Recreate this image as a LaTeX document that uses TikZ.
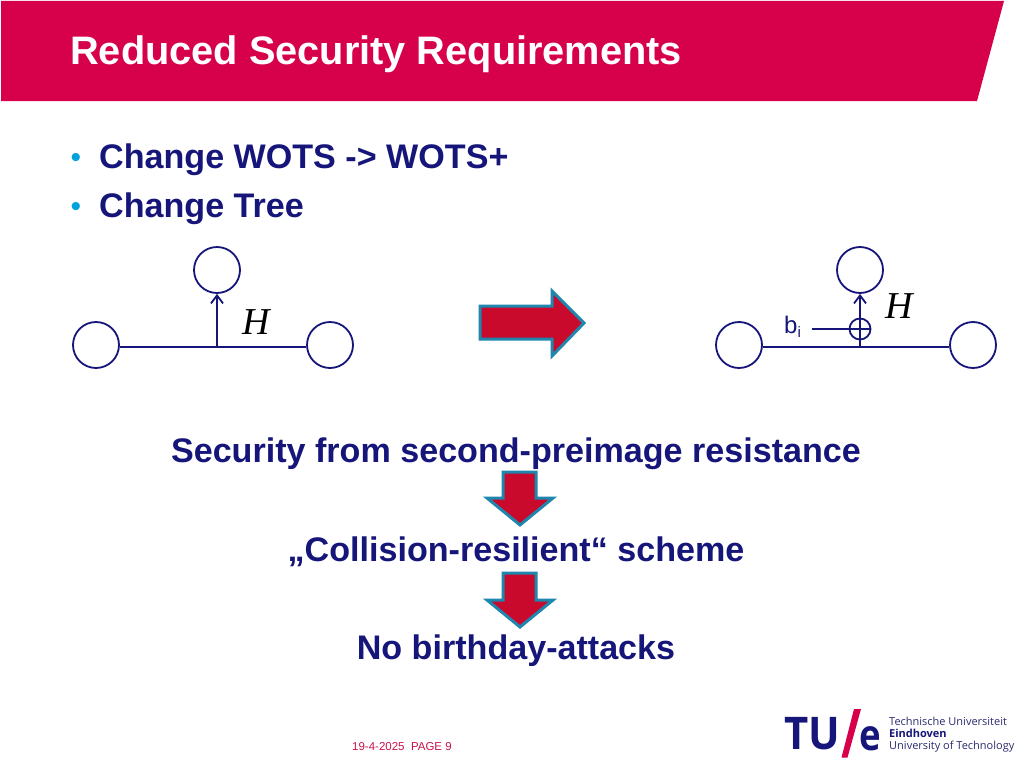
\documentclass[tikz,border=0pt]{standalone}
\usetikzlibrary{arrows.meta}
\usepackage{fontspec}
\setmainfont{Liberation Sans}
\newfontfamily\logofont{Open Sans}
\newfontfamily\mathserif{Liberation Serif}
\definecolor{tuered}{HTML}{D6004B}
\definecolor{navy}{HTML}{15157A}
\definecolor{bulletblue}{HTML}{00A2DE}
\definecolor{arrowred}{HTML}{C90A2C}
\definecolor{arrowedge}{HTML}{1F86AE}
\definecolor{footred}{HTML}{C8144C}
\definecolor{grayt}{HTML}{2B2B6E}
\tikzset{
  x=1pt,y=-1pt,
  treenode/.style={circle,draw=navy,line width=1.8pt,minimum size=46pt,inner sep=0pt,fill=white},
  treeline/.style={draw=navy,line width=1.8pt},
  fatarrow/.style={fill=arrowred,draw=arrowedge,line width=3pt,line join=miter},
  headline/.style={font=\bfseries\fontsize{34.1}{40}\selectfont,text=navy,inner sep=0pt,anchor=base west},
  centerline/.style={font=\bfseries\fontsize{34.1}{40}\selectfont,text=navy,inner sep=0pt,anchor=base},
  hlabel/.style={font=\mathserif\itshape\fontsize{38}{44}\selectfont,text=black,inner sep=0pt,anchor=base},
}
\begin{document}
\begin{tikzpicture}
\useasboundingbox (0,0) rectangle (1024,768);
\fill[white] (0,0) rectangle (1024,768);
% banner
\fill[tuered] (1,1) -- (1004,1) -- (977,101) -- (1,101) -- cycle;
\node[font=\bfseries\fontsize{39.75}{44}\selectfont,text=white,inner sep=0pt,anchor=base west] (title) at (70,64) {Reduced Security Requirements};
% bullets
\node[font=\fontsize{30}{30}\selectfont,text=bulletblue,inner sep=0pt,anchor=base] (b1) at (76,167) {•};
\node[font=\fontsize{30}{30}\selectfont,text=bulletblue,inner sep=0pt,anchor=base] (b2) at (76,216) {•};
\node[headline] (t1) at (99,168) {Change WOTS -> WOTS+};
\node[headline] (t2) at (99,217) {Change Tree};
% left tree
\node[treenode] (la) at (96,345) {};
\node[treenode] (lb) at (330,345) {};
\node[treenode] (lc) at (217,270) {};
\coordinate (lj) at (217,347);
\draw[treeline] (la.east |- lj) -- (lb.west |- lj);
\draw[treeline,-{Straight Barb[length=8pt,width=12pt]}] (lj) -- (lc.south);
\node[hlabel] (lh) at (256.5,334) {H};
% right tree
\node[treenode] (ra) at (739,345) {};
\node[treenode] (rb) at (973,345) {};
\node[treenode] (rc) at (860,270) {};
\coordinate (rj) at (860,347);
\draw[treeline] (ra.east |- rj) -- (rb.west |- rj);
\draw[treeline,-{Straight Barb[length=8pt,width=12pt]}] (rj) -- (rc.south);
\node[circle,draw=navy,line width=1.8pt,minimum size=21pt,inner sep=0pt] (xor) at (860,329) {};
\draw[treeline] (xor.west) -- (xor.east);
\node[font=\fontsize{24}{28}\selectfont,text=navy,inner sep=0pt,anchor=base west] (bi) at (784,333) {b\raisebox{-4pt}{\fontsize{15}{15}\selectfont i}};
\coordinate (bis) at (812,329);
\draw[treeline] (bis) -- (xor.west);
\node[hlabel] (rh) at (899,318) {H};
% big arrow
\draw[fatarrow] (480,306) -- (552,306) -- (552,291) -- (584,323) -- (552,356) -- (552,339) -- (480,339) -- cycle;
% text lines
\node[centerline] (s1) at (516,462) {Security from second-preimage resistance};
\node[centerline] (s2) at (516,561) {„Collision-resilient“ scheme};
\node[centerline] (s3) at (516,659) {No birthday-attacks};
% down arrows
\draw[fatarrow] (503,472) -- (536,472) -- (536,498) -- (553,498) -- (520,525) -- (487,498) -- (503,498) -- cycle;
\draw[fatarrow] (503,573) -- (536,573) -- (536,600) -- (553,600) -- (520,627) -- (487,600) -- (503,600) -- cycle;
% footer
\node[font=\fontsize{11.5}{13}\selectfont,text=footred,inner sep=0pt,anchor=base west] (date) at (352,750) {19-4-2025\ \ PAGE 9};
% logo
\node[font=\logofont\bfseries\fontsize{45}{45}\selectfont,text=navy,inner sep=0pt,anchor=base west,xscale=0.93] (tu) at (784,749) {TU};
\fill[tuered] (854,709) -- (861,709) -- (847.5,757.5) -- (841.5,757.5) -- cycle;
\node[font=\logofont\bfseries\fontsize{43}{43}\selectfont,text=navy,inner sep=0pt,anchor=base west,xscale=0.85] (e) at (859,750) {e};
\node[font=\logofont\fontsize{11}{12}\selectfont,text=grayt,inner sep=0pt,anchor=west,align=left] (lg) at (889,735) {Technische Universiteit\\{\bfseries\color{navy}Eindhoven}\\University of Technology};
\end{tikzpicture}
\end{document}
